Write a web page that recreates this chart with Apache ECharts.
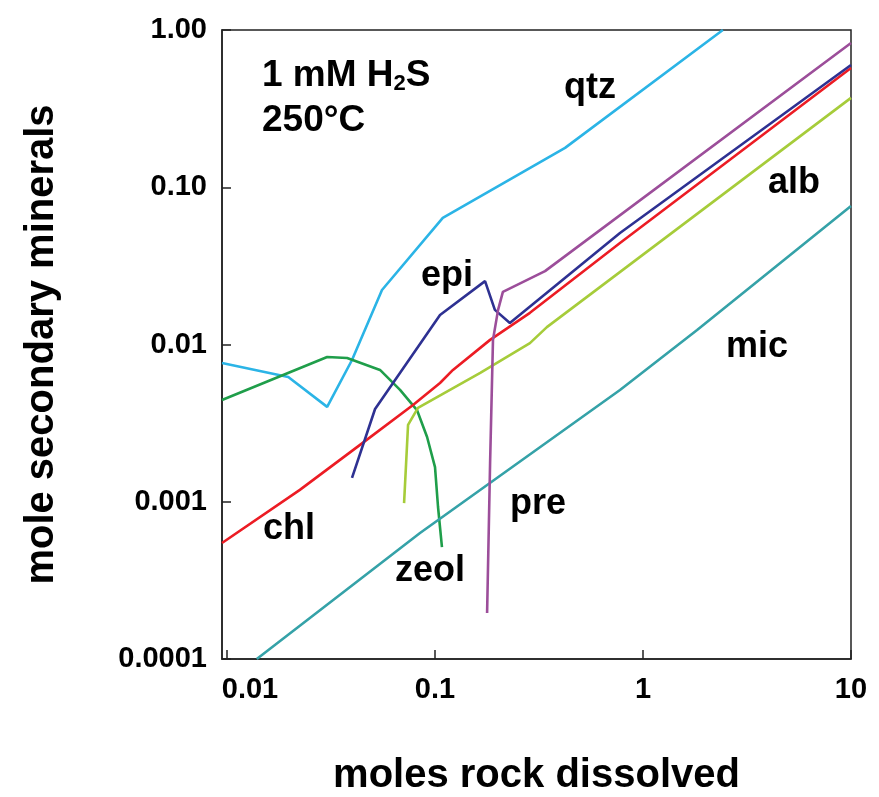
<!DOCTYPE html>
<html>
<head>
<meta charset="utf-8">
<script src="https://cdn.jsdelivr.net/npm/echarts@6/dist/echarts.min.js"></script>
<style>
  html, body { margin: 0; padding: 0; background: #fff; }
  #chart { width: 879px; height: 797px; }
</style>
</head>
<body>
<div id="chart"></div>
<script>
// Secondary mineral amounts (mol) versus moles of rock dissolved, 1 mM H2S at 250 °C
const xTicks = [0.01, 0.1, 1, 10];
const yTicks = [0.0001, 0.001, 0.01, 0.1, 1];
const yTickText = ['0.0001', '0.001', '0.01', '0.10', '1.00'];

const qtz = [[0.00946, 0.00762], [0.0197, 0.00621], [0.0303, 0.00401], [0.0399, 0.00797],
             [0.0556, 0.0222], [0.109, 0.0638], [0.422, 0.178], [2.42, 1.0]];
const zeol = [[0.00946, 0.00444], [0.0303, 0.00832], [0.0378, 0.0082], [0.0544, 0.00689],
              [0.0679, 0.00514], [0.0819, 0.00383], [0.0916, 0.00258], [0.100, 0.00166],
              [0.1034, 0.000926], [0.108, 0.000515]];
const chl = [[0.00946, 0.000547], [0.0224, 0.00119], [0.0436, 0.0023], [0.0784, 0.00412],
             [0.1057, 0.00569], [0.122, 0.00689], [0.184, 0.0107], [0.286, 0.0159],
             [0.775, 0.0442], [10, 0.573]];
const epi = [[0.0399, 0.00142], [0.0515, 0.00389], [0.1057, 0.0154], [0.174, 0.0253],
             [0.194, 0.0166], [0.229, 0.0137], [0.775, 0.0512], [10, 0.599]];
const pre = [[0.178, 0.000196], [0.184, 0.00176], [0.190, 0.0107], [0.201, 0.0166],
             [0.212, 0.0216], [0.338, 0.0293], [10, 0.826]];
const alb = [[0.0710, 0.00098], [0.0742, 0.00308], [0.0828, 0.00395], [0.165, 0.00659],
             [0.286, 0.0102], [0.345, 0.0129], [10, 0.37]];
const mic = [[0.0139, 0.0001], [0.0847, 0.000633], [0.775, 0.00514], [1.82, 0.01236], [10, 0.076]];

const FONT = '"Liberation Sans", Arial, sans-serif';

const seriesDefs = [
  { name: 'qtz', data: qtz, color: '#2bb4e6' },
  { name: 'zeol', data: zeol, color: '#1f9e4a' },
  { name: 'chl', data: chl, color: '#ec1c24' },
  { name: 'alb', data: alb, color: '#a6cc3a' },
  { name: 'mic', data: mic, color: '#35a2a8' },
  { name: 'epi', data: epi, color: '#2e3192' },
  { name: 'pre', data: pre, color: '#9c4e9a' }
];

// mineral name tags, placed by their centre
const labelText = [
  { text: 'qtz', x: 590, y: 88 },
  { text: 'alb', x: 794, y: 183 },
  { text: 'epi', x: 447, y: 276 },
  { text: 'mic', x: 757, y: 347 },
  { text: 'chl', x: 289, y: 529 },
  { text: 'pre', x: 538, y: 504 },
  { text: 'zeol', x: 430, y: 571 }
];

function tickText(v) {
  for (let i = 0; i < yTicks.length; i++) {
    if (Math.abs(Math.log10(v) - Math.log10(yTicks[i])) < 1e-6) return yTickText[i];
  }
  return '';
}

function xTickText(v) {
  const s = String(+(+v).toPrecision(3));
  // the first label sits a little to the right of the axis corner
  return Math.abs(Math.log10(v) + 2) < 1e-6 ? '{first|' + s + '}' : s;
}

const chart = echarts.init(document.getElementById('chart'), null, { renderer: 'canvas' });

chart.setOption({
  backgroundColor: '#ffffff',
  animation: false,
  grid: {
    left: 222, top: 30, right: 28, bottom: 138,
    outerBoundsMode: 'none',
    show: true, borderColor: '#222', borderWidth: 1.5, backgroundColor: 'transparent'
  },
  xAxis: {
    type: 'log',
    logBase: 10,
    min: 0.00946,
    max: 10,
    name: 'moles rock dissolved',
    nameLocation: 'middle',
    nameGap: 97,
    nameTextStyle: { fontFamily: FONT, fontWeight: 'bold', fontSize: 40, color: '#000' },
    axisLine: { show: true, lineStyle: { color: '#222', width: 1.5 } },
    axisTick: { show: true, inside: true, length: 9, customValues: xTicks, lineStyle: { color: '#222', width: 1.5 } },
    axisLabel: {
      customValues: xTicks,
      margin: 16,
      fontFamily: FONT, fontWeight: 'bold', fontSize: 29, color: '#000',
      formatter: xTickText,
      rich: {
        first: { fontFamily: FONT, fontWeight: 'bold', fontSize: 29, color: '#000', padding: [0, 0, 0, 46] }
      }
    },
    splitLine: { show: false },
    minorTick: { show: false }
  },
  yAxis: {
    type: 'log',
    logBase: 10,
    min: 0.0001,
    max: 1,
    name: 'mole secondary minerals',
    nameLocation: 'middle',
    nameGap: 160,
    nameTextStyle: { fontFamily: FONT, fontWeight: 'bold', fontSize: 40, color: '#000' },
    axisLine: { show: true, lineStyle: { color: '#222', width: 1.5 } },
    axisTick: { show: true, inside: true, length: 9, lineStyle: { color: '#222', width: 1.5 } },
    axisLabel: {
      margin: 15,
      padding: [0, 0, 8, 0],
      fontFamily: FONT, fontWeight: 'bold', fontSize: 29, color: '#000',
      formatter: v => tickText(+v)
    },
    splitLine: { show: false }
  },
  series: seriesDefs.map(s => ({
    name: s.name,
    type: 'line',
    data: s.data,
    symbol: 'none',
    lineStyle: { color: s.color, width: 2.6 },
    clip: true
  })),
  graphic: [
    {
      type: 'text',
      x: 262, y: 76,
      style: {
        text: '1 mM H{sub|2}S',
        rich: { sub: { fontSize: 22, fontWeight: 'bold', fontFamily: FONT, padding: [16, 0, 0, 0] } },
        fontFamily: FONT, fontWeight: 'bold', fontSize: 37, fill: '#000',
        verticalAlign: 'middle'
      }
    },
    {
      type: 'text',
      x: 262, y: 121,
      style: { text: '250°C', fontFamily: FONT, fontWeight: 'bold', fontSize: 37, fill: '#000', verticalAlign: 'middle' }
    }
  ].concat(labelText.map(l => ({
    type: 'text',
    x: l.x, y: l.y,
    style: {
      text: l.text, fontFamily: FONT, fontWeight: 'bold', fontSize: 36, fill: '#000',
      align: 'center', verticalAlign: 'middle'
    }
  })))
});
</script>
</body>
</html>
